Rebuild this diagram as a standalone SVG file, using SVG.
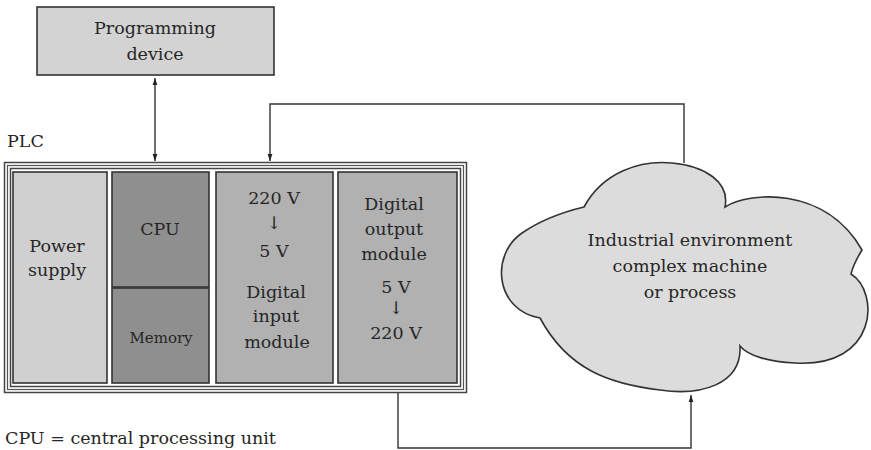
<svg xmlns="http://www.w3.org/2000/svg" width="871" height="450" viewBox="0 0 871 450">
<style>
text{font-family:"DejaVu Serif","Liberation Serif",serif;fill:#262626;text-anchor:middle}
.t{font-size:17.5px}
.s{font-size:15px}
.box{stroke:#333;stroke-width:1.6}
.ln{fill:none;stroke:#333;stroke-width:1.4}
</style>
<defs>
<marker id="ah" markerWidth="8" markerHeight="8" refX="7" refY="3" orient="auto-start-reverse" markerUnits="userSpaceOnUse">
<path d="M0,0.6 L7,3 L0,5.4 Z" fill="#222"/>
</marker>
</defs>
<rect width="871" height="450" fill="#fff"/>
<g id="connectors">
<line class="ln" x1="155" y1="78" x2="155" y2="161" marker-start="url(#ah)" marker-end="url(#ah)"/>
<polyline class="ln" points="684,163 684,104 270,104 270,161" marker-end="url(#ah)"/>
<polyline class="ln" points="398,392 398,448 691,448 691,395" marker-end="url(#ah)"/>
</g>
<g id="programming-device">
<rect class="box" x="37" y="7" width="237" height="68" fill="#d3d3d3"/>
<text class="t" x="155" y="34">Programming</text>
<text class="t" x="155" y="60">device</text>
</g>
<g id="plc">
<text class="t" x="7" y="147" style="text-anchor:start">PLC</text>
<rect x="4.5" y="162.5" width="462" height="230" fill="#fff" stroke="#444" stroke-width="1.5"/>
<rect x="7.5" y="165.5" width="456" height="224" fill="none" stroke="#555" stroke-width="1.2"/>
<rect x="10.5" y="168.5" width="450" height="218" fill="none" stroke="#444" stroke-width="1.5"/>
</g>
<g id="power-supply">
<rect class="box" x="13" y="172" width="94" height="211" fill="#d0d0d0"/>
<text class="t" x="57" y="252">Power</text>
<text class="t" x="57" y="276">supply</text>
</g>
<g id="cpu">
<rect class="box" x="112" y="172" width="97" height="115" fill="#8f8f8f"/>
<text class="t" x="160" y="235">CPU</text>
</g>
<g id="memory">
<rect class="box" x="112" y="288" width="97" height="95" fill="#8f8f8f"/>
<text class="s" x="161" y="343">Memory</text>
</g>
<g id="digital-input-module">
<rect class="box" x="216" y="172" width="117" height="211" fill="#b1b1b1"/>
<text class="t" x="274" y="204">220 V</text>
<text class="t" x="274" y="229">↓</text>
<text class="t" x="274" y="257">5 V</text>
<text class="t" x="276" y="298">Digital</text>
<text class="t" x="276" y="322">input</text>
<text class="t" x="277" y="348">module</text>
</g>
<g id="digital-output-module">
<rect class="box" x="338" y="172" width="119" height="211" fill="#b1b1b1"/>
<text class="t" x="394" y="210">Digital</text>
<text class="t" x="394" y="235">output</text>
<text class="t" x="394" y="260">module</text>
<text class="t" x="396" y="293">5 V</text>
<text class="t" x="396" y="314">↓</text>
<text class="t" x="396" y="339">220 V</text>
</g>
<g id="industrial-environment">
<path d="M584,207 C603,172 640,160 672,163 C705,166 730,182 725,207 C748,192 825,185 862,250 C857,258 853,266 851,274 C880,292 878,368 795,363 C770,362 748,356 740,346 C742,385 700,396 660,390 C610,384 568,370 540,318 C495,310 490,255 522,233 C541,220 563,212 584,207 Z" fill="#dcdcdc" stroke="#333" stroke-width="1.6"/>
<text class="t" x="690" y="246">Industrial environment</text>
<text class="t" x="690" y="272">complex machine</text>
<text class="t" x="690" y="298">or process</text>
</g>
<text class="t" x="5" y="444" style="text-anchor:start">CPU = central processing unit</text>
</svg>
